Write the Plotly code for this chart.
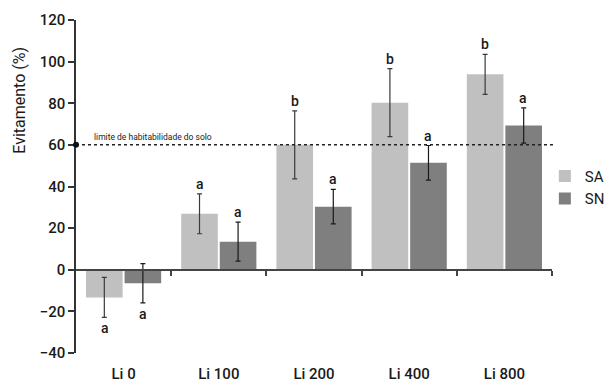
import plotly.graph_objects as go

categories = ["Li 0", "Li 100", "Li 200", "Li 400", "Li 800"]
sa_values = [-13.3, 26.9, 60.0, 80.3, 93.9]
sa_errors = [9.6, 9.6, 16.3, 16.3, 9.6]
sn_values = [-6.5, 13.5, 30.3, 51.4, 69.3]
sn_errors = [9.4, 9.4, 8.3, 8.3, 8.5]
sa_letters = ["a", "a", "b", "b", "b"]
sn_letters = ["a", "a", "a", "a", "a"]
threshold = 60
threshold_label = "limite de habitabilidade do solo"
y_ticks = [-40, -20, 0, 20, 40, 60, 80, 100, 120]

FONT = "Roboto"
TXT = "#1a1a1a"

fig = go.Figure()
fig.add_trace(go.Bar(
    name="SA", x=categories, y=sa_values,
    marker=dict(color="#c0c0c0", line=dict(width=0)),
    error_y=dict(type="data", array=sa_errors, color="#3a3a3a", thickness=1.2, width=2.5),
))
fig.add_trace(go.Bar(
    name="SN", x=categories, y=sn_values,
    marker=dict(color="#7f7f7f", line=dict(width=0)),
    error_y=dict(type="data", array=sn_errors, color="#1a1a1a", thickness=1.2, width=2.5),
))

# boundary ticks on the zero line
fig.add_trace(go.Scatter(x=[None], y=[None], xaxis="x2", showlegend=False, hoverinfo="skip"))

annotations = []
offsets = [-0.2, 0.2]
for vals, errs, letters, off in [(sa_values, sa_errors, sa_letters, offsets[0]),
                                  (sn_values, sn_errors, sn_letters, offsets[1])]:
    for i, (v, e, l) in enumerate(zip(vals, errs, letters)):
        if v >= 0:
            y = v + e
            ys = 10
        else:
            y = v - e
            ys = -11
        annotations.append(dict(
            x=i + off, y=y, xref="x2", yref="y", text=l, showarrow=False,
            yshift=ys, font=dict(family=FONT, size=14, color=TXT, weight=500)))

annotations.append(dict(
    x=0.033, y=threshold, xref="paper", yref="y", text=threshold_label,
    showarrow=False, xanchor="left", yanchor="bottom", yshift=1,
    font=dict(family=FONT, size=8.5, color="#222222")))
annotations.append(dict(
    x=-0.118, y=0.76, xref="paper", yref="paper", text="Evitamento (%)",
    showarrow=False, textangle=-90, xanchor="center", yanchor="middle",
    font=dict(family=FONT, size=16, color=TXT)))

shapes = [
    dict(type="line", xref="paper", yref="y", x0=0, x1=1.002, y0=threshold, y1=threshold,
         line=dict(color="#222", width=1.5, dash="dot")),
    dict(type="circle", xref="paper", yref="y", xsizemode="pixel", ysizemode="pixel",
         xanchor=0, yanchor=threshold, x0=-3, x1=3, y0=-3, y1=3,
         fillcolor="#111", line=dict(width=0)),
]

fig.update_layout(
    width=608, height=382,
    margin=dict(l=76, r=56, t=20, b=29, autoexpand=False),
    paper_bgcolor="white", plot_bgcolor="white",
    barmode="group", bargap=0.19, bargroupgap=0.05,
    font=dict(family=FONT, color=TXT),
    showlegend=True,
    legend=dict(x=0.985, y=0.58, xanchor="left", yanchor="top",
                bgcolor="rgba(0,0,0,0)",
                font=dict(family=FONT, size=15, color=TXT),
                itemwidth=30, tracegroupgap=4, traceorder="normal"),
    xaxis=dict(showline=False, ticks="", showgrid=False, zeroline=False,
               automargin=False,
               tickfont=dict(family=FONT, size=15, color=TXT, weight=500),
               ticklabelstandoff=10, fixedrange=True),
    xaxis2=dict(overlaying="x", anchor="free", position=0.25, range=[-0.5, 4.5],
                showline=True, linecolor="#444", linewidth=1.5, automargin=False,
                tickmode="array", tickvals=[0.5, 1.5, 2.5, 3.5, 4.5],
                ticks="outside", ticklen=5, tickcolor="#444", tickwidth=1.5,
                showticklabels=False, showgrid=False, zeroline=False, side="bottom"),
    yaxis=dict(range=[-40, 120], tickvals=y_ticks, showgrid=False, zeroline=False,
               showline=True, linecolor="#333", linewidth=1.5, automargin=False,
               ticks="outside", ticklen=6, tickcolor="#333", tickwidth=1.5,
               tickfont=dict(family=FONT, size=15, color=TXT, weight=500)),
    annotations=annotations,
    shapes=shapes,
)

fig.write_html("out.html", config={"displayModeBar": False},
               post_script="document.body.style.margin='0';")
